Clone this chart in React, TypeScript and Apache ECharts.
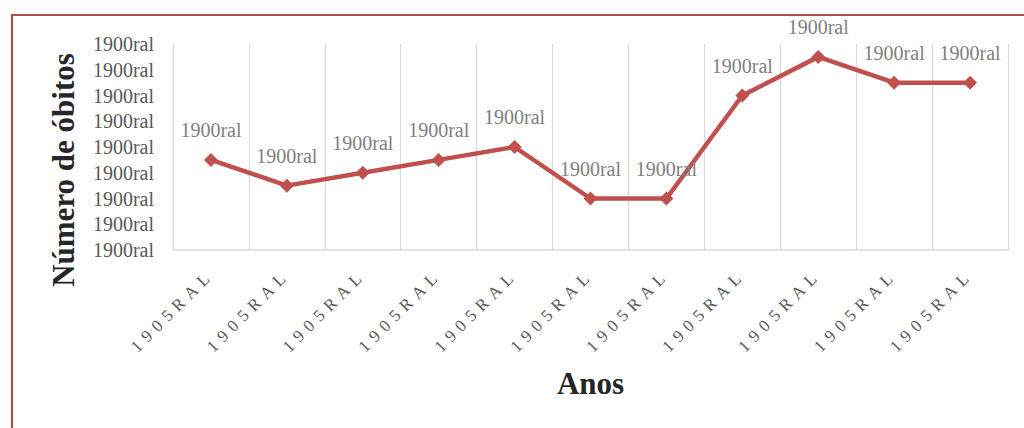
import React, { useEffect, useRef } from "react";
import * as echarts from "echarts";

const categories = ["1905RAL", "1905RAL", "1905RAL", "1905RAL", "1905RAL", "1905RAL", "1905RAL", "1905RAL", "1905RAL", "1905RAL", "1905RAL"];
const values = [3.5, 2.5, 3, 3.5, 4, 2, 2, 6, 7.5, 6.5, 6.5];
const pointLabels = ["1900ral", "1900ral", "1900ral", "1900ral", "1900ral", "1900ral", "1900ral", "1900ral", "1900ral", "1900ral", "1900ral"];
const yTickLabels = ["1900ral", "1900ral", "1900ral", "1900ral", "1900ral", "1900ral", "1900ral", "1900ral", "1900ral"];
const xTitle = "Anos";
const yTitle = "Número de óbitos";

const FONT = "'Liberation Serif', 'Times New Roman', serif";

export default function App() {
  const ref = useRef<HTMLDivElement>(null);
  useEffect(() => {
    if (!ref.current) return;
    const chart = echarts.init(ref.current, undefined, { renderer: "svg" });
    chart.setOption({
      animation: false,
      textStyle: { fontFamily: FONT },
      grid: { left: 173, right: 16, top: 44, bottom: 178, containLabel: false },
      graphic: [
        {
          type: "rect",
          shape: { x: 12, y: 15, width: 1100, height: 600 },
          style: { fill: "none", stroke: "#b04d4b", lineWidth: 2 },
          silent: true,
        },
        {
          type: "text",
          x: 63,
          y: 170,
          rotation: Math.PI / 2,
          style: {
            text: yTitle,
            fontFamily: FONT,
            fontSize: 31,
            fontWeight: "bold",
            fill: "#262626",
            textAlign: "center",
            textVerticalAlign: "middle",
          },
        },
      ],
      xAxis: {
        type: "category",
        data: categories,
        boundaryGap: true,
        name: xTitle,
        nameLocation: "middle",
        nameGap: 118,
        nameTextStyle: { fontFamily: FONT, fontSize: 31, fontWeight: "bold", color: "#262626" },
        axisLine: { show: true, lineStyle: { color: "#d9d9d9", width: 1.5 } },
        axisTick: { show: false },
        splitLine: { show: true, lineStyle: { color: "#d9d9d9", width: 1.2 } },
        axisLabel: {
          rotate: 45,
          interval: 0,
          margin: 22,
          fontFamily: FONT,
          fontSize: 17,
          color: "#595959",
        },
      },
      yAxis: {
        type: "value",
        min: 0,
        max: 8,
        interval: 1,
        axisLine: { show: false },
        axisTick: { show: false },
        splitLine: { show: false },
        axisLabel: {
          margin: 19,
          fontFamily: FONT,
          fontSize: 20,
          color: "#595959",
          formatter: (v: number) => yTickLabels[Math.round(v)] ?? "",
        },
      },
      series: [
        {
          type: "line",
          data: values,
          symbol: "diamond",
          symbolSize: 14,
          lineStyle: { color: "#c0504d", width: 4.5 },
          itemStyle: { color: "#c0504d" },
          label: {
            show: true,
            position: "top",
            distance: 13,
            fontFamily: FONT,
            fontSize: 20,
            color: "#7f7f7f",
            formatter: (p: any) => pointLabels[p.dataIndex],
          },
        },
      ],
    });
    const applySpacing = () => {
      if (!ref.current) return;
      ref.current.querySelectorAll("text").forEach((t) => {
        if (t.textContent === "1905RAL") {
          t.setAttribute("letter-spacing", "5.9");
        }
      });
    };
    applySpacing();
    chart.on("finished", applySpacing);
    return () => chart.dispose();
  }, []);
  return (
    <div style={{ position: "fixed", left: 0, top: 0, width: 1024, height: 428, background: "#fff" }}>
      <div ref={ref} style={{ width: 1024, height: 428 }} />
    </div>
  );
}
